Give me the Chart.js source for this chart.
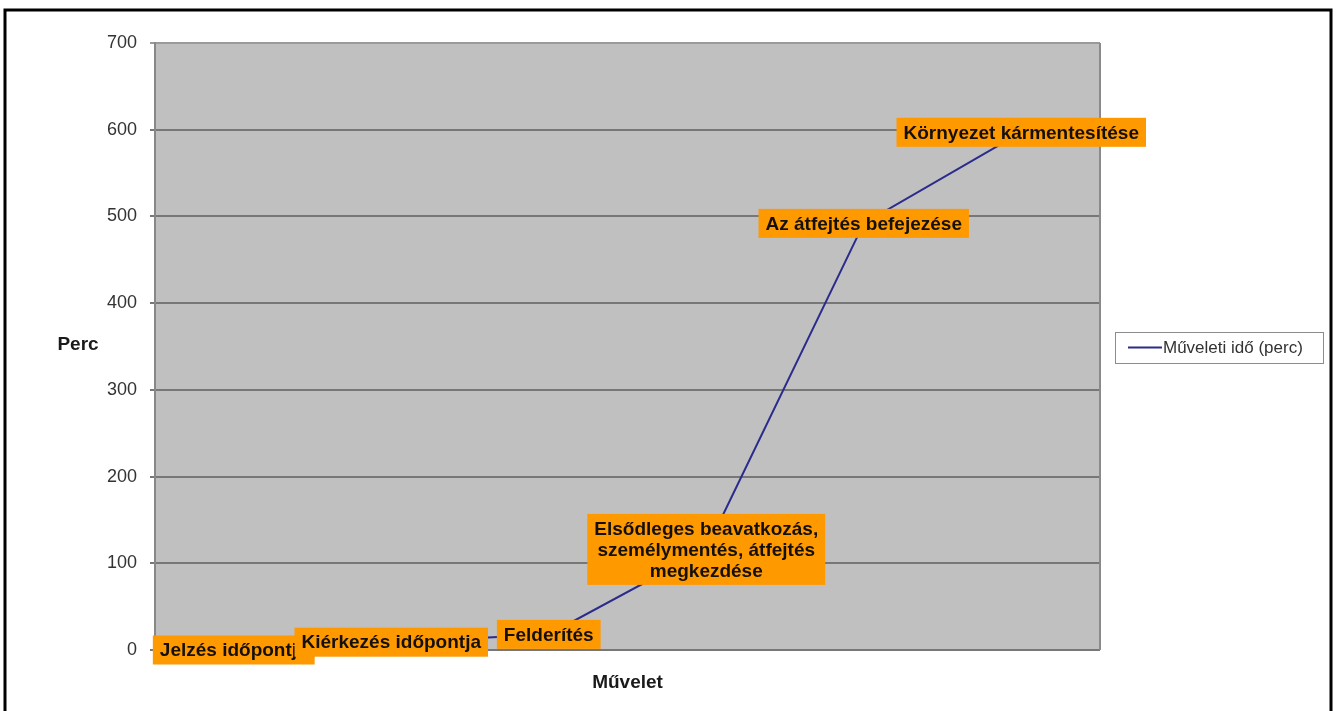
<!DOCTYPE html>
<html>
<head>
<meta charset="utf-8">
<script src="https://cdn.jsdelivr.net/npm/chart.js@4.4.1/dist/chart.umd.min.js"></script>
<style>
  html, body { margin: 0; padding: 0; background: #fff; }
  canvas { display: block; }
</style>
</head>
<body>
<canvas id="muvelet-chart" width="1337" height="711"></canvas>
<script>
// Műveletek sorrendben, a hosszú címke soronként tördelve
const categories = [
    'Jelzés időpontja',
    'Kiérkezés időpontja',
    'Felderítés',
    ['Elsődleges beavatkozás,', 'személymentés, átfejtés', 'megkezdése'],
    'Az átfejtés befejezése',
    'Környezet kármentesítése'
];
// Eltelt idő percben
const minutes = [0, 9, 18, 116, 492, 597];
const seriesName = 'Műveleti idő (perc)';
const yTitle = 'Perc';
const xTitle = 'Művelet';
const yMin = 0;
const yMax = 700;
const yStep = 100;

const FONT = "'Liberation Sans', Arial, sans-serif";
const LINE_COLOR = '#2b2b8c';
Chart.defaults.font.family = FONT;

// szürke rajzterület, külső keret, tengelycím és jelmagyarázat
const framePlugin = {
    id: 'frame',
    beforeDraw(chart) {
        const { ctx, chartArea: a } = chart;
        ctx.save();
        ctx.fillStyle = '#fff';
        ctx.fillRect(0, 0, chart.width, chart.height);
        ctx.fillStyle = '#c0c0c0';
        ctx.fillRect(a.left, a.top, a.right - a.left, a.bottom - a.top);
        ctx.restore();
    },
    beforeDatasetsDraw(chart) {
        const { ctx, chartArea: a } = chart;
        ctx.save();
        ctx.strokeStyle = '#8a8a8a';
        ctx.lineWidth = 2;
        ctx.beginPath();
        ctx.moveTo(a.right, a.top);
        ctx.lineTo(a.right, a.bottom);
        ctx.stroke();
        ctx.restore();
    },
    afterDraw(chart) {
        const { ctx, chartArea: a } = chart;
        ctx.save();
        // külső fekete keret
        ctx.strokeStyle = '#000';
        ctx.lineWidth = 3;
        ctx.strokeRect(5, 10, 1326, 710);

        // függőleges tengely címe vízszintesen
        ctx.fillStyle = '#1a1a1a';
        ctx.font = 'bold 19px ' + FONT;
        ctx.textAlign = 'center';
        ctx.textBaseline = 'middle';
        ctx.fillText(yTitle, 78, 345);

        // jelmagyarázat dobozzal
        const ds = chart.data.datasets[0];
        const lx = 1115, ly = 332, lw = 208, lh = 31;
        ctx.fillStyle = '#fff';
        ctx.fillRect(lx, ly, lw, lh);
        ctx.strokeStyle = '#8c8c8c';
        ctx.lineWidth = 1;
        ctx.strokeRect(lx + 0.5, ly + 0.5, lw, lh);
        const cy = ly + lh / 2;
        ctx.strokeStyle = ds.borderColor;
        ctx.lineWidth = 2;
        ctx.beginPath();
        ctx.moveTo(lx + 13, cy);
        ctx.lineTo(lx + 47, cy);
        ctx.stroke();
        ctx.fillStyle = '#333';
        ctx.font = '17px ' + FONT;
        ctx.textAlign = 'left';
        ctx.fillText(ds.label, lx + 48, cy + 1);
        ctx.restore();
    }
};

// narancs címkék a pontok közepére
const pointLabelPlugin = {
    id: 'pointLabels',
    afterDatasetsDraw(chart) {
        const { ctx } = chart;
        const meta = chart.getDatasetMeta(0);
        const lineH = 21, padX = 7, padY = 4;
        ctx.save();
        ctx.font = 'bold 19px ' + FONT;
        ctx.textAlign = 'center';
        ctx.textBaseline = 'middle';
        meta.data.forEach((pt, i) => {
            const raw = chart.data.labels[i];
            const lines = Array.isArray(raw) ? raw : [raw];
            const w = Math.max(...lines.map(l => ctx.measureText(l).width)) + padX * 2;
            const h = lines.length * lineH + padY * 2;
            const x0 = pt.x - w / 2;
            const y0 = pt.y - h / 2;
            ctx.fillStyle = '#ff9900';
            ctx.fillRect(x0, y0, w, h);
            ctx.fillStyle = '#141008';
            lines.forEach((l, j) => {
                ctx.fillText(l, pt.x, y0 + padY + lineH * j + lineH / 2 + 1);
            });
        });
        ctx.restore();
    }
};

const chart = new Chart(document.getElementById('muvelet-chart'), {
    type: 'line',
    data: {
        labels: categories,
        datasets: [{
            label: seriesName,
            data: minutes,
            borderColor: LINE_COLOR,
            backgroundColor: LINE_COLOR,
            borderWidth: 2,
            pointRadius: 0,
            tension: 0,
            fill: false
        }]
    },
    options: {
        responsive: false,
        devicePixelRatio: 1,
        animation: false,
        layout: {
            padding: { left: 0, top: 43, right: 237, bottom: 0 }
        },
        plugins: {
            legend: { display: false },
            tooltip: { enabled: false }
        },
        scales: {
            x: {
                type: 'category',
                offset: true,
                grid: { display: false },
                border: { display: false },
                ticks: { display: false },
                title: {
                    display: true,
                    text: xTitle,
                    color: '#1a1a1a',
                    font: { size: 19, weight: 'bold' },
                    padding: { top: 0, bottom: 17 }
                },
                afterFit(scale) { scale.height = 61; }
            },
            y: {
                min: yMin,
                max: yMax,
                ticks: {
                    stepSize: yStep,
                    padding: 13,
                    color: '#333',
                    font: { size: 18 }
                },
                grid: {
                    color: ctx => ctx.tick && ctx.tick.value === yMax ? '#9a9a9a' : '#777',
                    lineWidth: 2,
                    tickLength: 5
                },
                border: { color: '#888', width: 2 },
                afterFit(scale) { scale.width = 155; }
            }
        }
    },
    plugins: [framePlugin, pointLabelPlugin]
});
</script>
</body>
</html>
